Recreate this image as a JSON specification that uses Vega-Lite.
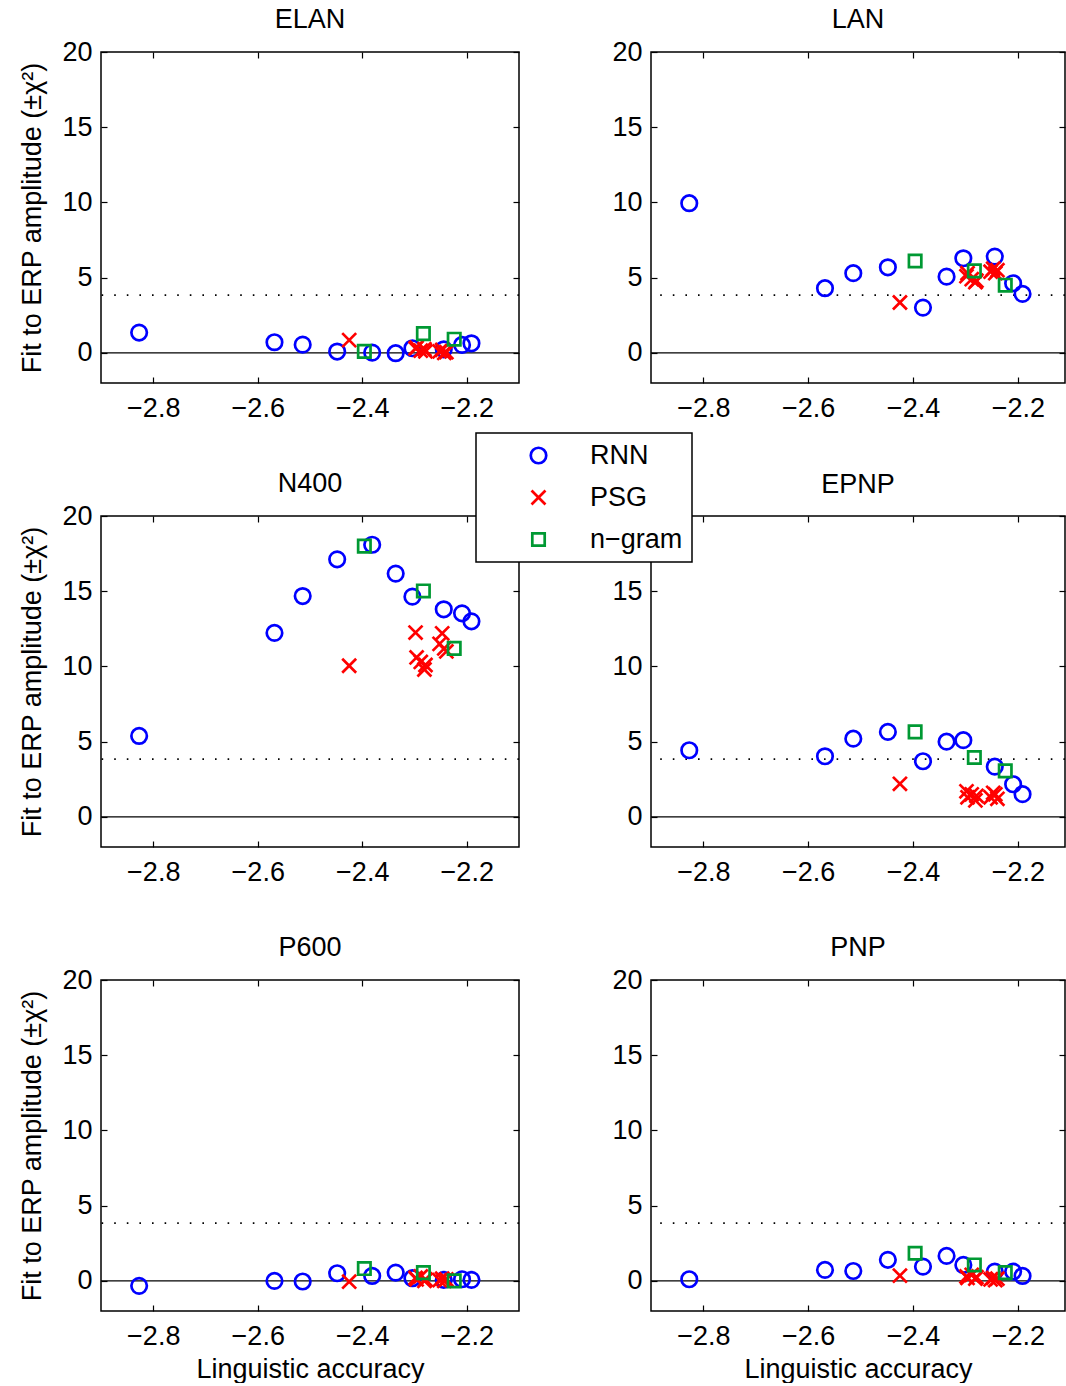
{
  "$schema": "https://vega.github.io/schema/vega-lite/v6.json",
  "background": "white",
  "padding": {"left": 18, "top": 5, "right": 0, "bottom": 0},
  "config": {
    "font": "Liberation Sans",
    "view": {"stroke": "black", "strokeWidth": 1.5},
    "axis": {"grid": false, "domain": false, "labelFont": "Liberation Sans", "labelFontSize": 27, "labelColor": "black", "titleFont": "Liberation Sans", "titleFontSize": 27, "titleFontWeight": "normal", "titleColor": "black", "tickColor": "black", "tickSize": -6, "tickWidth": 1.2},
    "title": {"font": "Liberation Sans", "fontSize": 27, "fontWeight": "normal", "color": "black", "offset": 4},
    "point": {"opacity": 1},
    "legend": {"title": null, "strokeColor": "black", "strokeWidth": 1.5, "fillColor": "white", "padding": 9, "labelFont": "Liberation Sans", "labelFontSize": 27, "labelColor": "black", "symbolOffset": 40, "labelOffset": 38, "rowPadding": 14, "symbolStrokeWidth": 2.7, "symbolSize": 240, "symbolOpacity": 1}
  },
  "datasets": {
    "pts": [
      {"erp":"ELAN","model":"RNN","acc":-2.827,"fit":1.35},{"erp":"ELAN","model":"RNN","acc":-2.568,"fit":0.71},{"erp":"ELAN","model":"RNN","acc":-2.514,"fit":0.55},{"erp":"ELAN","model":"RNN","acc":-2.448,"fit":0.09},{"erp":"ELAN","model":"RNN","acc":-2.381,"fit":0.02},{"erp":"ELAN","model":"RNN","acc":-2.336,"fit":-0.02},{"erp":"ELAN","model":"RNN","acc":-2.304,"fit":0.31},{"erp":"ELAN","model":"RNN","acc":-2.244,"fit":0.24},{"erp":"ELAN","model":"RNN","acc":-2.209,"fit":0.53},{"erp":"ELAN","model":"RNN","acc":-2.191,"fit":0.64},
      {"erp":"ELAN","model":"PSG","acc":-2.425,"fit":0.85},{"erp":"ELAN","model":"PSG","acc":-2.298,"fit":0.3},{"erp":"ELAN","model":"PSG","acc":-2.296,"fit":0.35},{"erp":"ELAN","model":"PSG","acc":-2.288,"fit":0.15},{"erp":"ELAN","model":"PSG","acc":-2.281,"fit":0.25},{"erp":"ELAN","model":"PSG","acc":-2.279,"fit":0.1},{"erp":"ELAN","model":"PSG","acc":-2.252,"fit":0.1},{"erp":"ELAN","model":"PSG","acc":-2.247,"fit":0.2},{"erp":"ELAN","model":"PSG","acc":-2.243,"fit":0.0},{"erp":"ELAN","model":"PSG","acc":-2.239,"fit":0.05},
      {"erp":"ELAN","model":"n−gram","acc":-2.396,"fit":0.1},{"erp":"ELAN","model":"n−gram","acc":-2.283,"fit":1.28},{"erp":"ELAN","model":"n−gram","acc":-2.224,"fit":0.91},
      {"erp":"LAN","model":"RNN","acc":-2.827,"fit":9.95},{"erp":"LAN","model":"RNN","acc":-2.568,"fit":4.3},{"erp":"LAN","model":"RNN","acc":-2.514,"fit":5.3},{"erp":"LAN","model":"RNN","acc":-2.448,"fit":5.69},{"erp":"LAN","model":"RNN","acc":-2.381,"fit":3.01},{"erp":"LAN","model":"RNN","acc":-2.336,"fit":5.07},{"erp":"LAN","model":"RNN","acc":-2.304,"fit":6.29},{"erp":"LAN","model":"RNN","acc":-2.244,"fit":6.4},{"erp":"LAN","model":"RNN","acc":-2.209,"fit":4.63},{"erp":"LAN","model":"RNN","acc":-2.191,"fit":3.92},
      {"erp":"LAN","model":"PSG","acc":-2.425,"fit":3.35},{"erp":"LAN","model":"PSG","acc":-2.298,"fit":5.1},{"erp":"LAN","model":"PSG","acc":-2.296,"fit":5.3},{"erp":"LAN","model":"PSG","acc":-2.288,"fit":4.9},{"erp":"LAN","model":"PSG","acc":-2.281,"fit":4.7},{"erp":"LAN","model":"PSG","acc":-2.279,"fit":4.8},{"erp":"LAN","model":"PSG","acc":-2.252,"fit":5.4},{"erp":"LAN","model":"PSG","acc":-2.247,"fit":5.6},{"erp":"LAN","model":"PSG","acc":-2.243,"fit":5.3},{"erp":"LAN","model":"PSG","acc":-2.239,"fit":5.5},
      {"erp":"LAN","model":"n−gram","acc":-2.396,"fit":6.11},{"erp":"LAN","model":"n−gram","acc":-2.283,"fit":5.45},{"erp":"LAN","model":"n−gram","acc":-2.224,"fit":4.5},
      {"erp":"N400","model":"RNN","acc":-2.827,"fit":5.38},{"erp":"N400","model":"RNN","acc":-2.568,"fit":12.23},{"erp":"N400","model":"RNN","acc":-2.514,"fit":14.68},{"erp":"N400","model":"RNN","acc":-2.448,"fit":17.12},{"erp":"N400","model":"RNN","acc":-2.381,"fit":18.09},{"erp":"N400","model":"RNN","acc":-2.336,"fit":16.17},{"erp":"N400","model":"RNN","acc":-2.304,"fit":14.64},{"erp":"N400","model":"RNN","acc":-2.244,"fit":13.8},{"erp":"N400","model":"RNN","acc":-2.209,"fit":13.53},{"erp":"N400","model":"RNN","acc":-2.191,"fit":13.0},
      {"erp":"N400","model":"PSG","acc":-2.425,"fit":10.05},{"erp":"N400","model":"PSG","acc":-2.298,"fit":12.25},{"erp":"N400","model":"PSG","acc":-2.296,"fit":10.6},{"erp":"N400","model":"PSG","acc":-2.288,"fit":10.3},{"erp":"N400","model":"PSG","acc":-2.281,"fit":9.8},{"erp":"N400","model":"PSG","acc":-2.279,"fit":10.1},{"erp":"N400","model":"PSG","acc":-2.252,"fit":11.5},{"erp":"N400","model":"PSG","acc":-2.247,"fit":12.2},{"erp":"N400","model":"PSG","acc":-2.243,"fit":11.2},{"erp":"N400","model":"PSG","acc":-2.239,"fit":11.0},
      {"erp":"N400","model":"n−gram","acc":-2.396,"fit":18.0},{"erp":"N400","model":"n−gram","acc":-2.283,"fit":15.02},{"erp":"N400","model":"n−gram","acc":-2.224,"fit":11.2},
      {"erp":"EPNP","model":"RNN","acc":-2.827,"fit":4.43},{"erp":"EPNP","model":"RNN","acc":-2.568,"fit":4.03},{"erp":"EPNP","model":"RNN","acc":-2.514,"fit":5.2},{"erp":"EPNP","model":"RNN","acc":-2.448,"fit":5.65},{"erp":"EPNP","model":"RNN","acc":-2.381,"fit":3.7},{"erp":"EPNP","model":"RNN","acc":-2.336,"fit":5.0},{"erp":"EPNP","model":"RNN","acc":-2.304,"fit":5.1},{"erp":"EPNP","model":"RNN","acc":-2.244,"fit":3.34},{"erp":"EPNP","model":"RNN","acc":-2.209,"fit":2.17},{"erp":"EPNP","model":"RNN","acc":-2.191,"fit":1.51},
      {"erp":"EPNP","model":"PSG","acc":-2.425,"fit":2.2},{"erp":"EPNP","model":"PSG","acc":-2.298,"fit":1.7},{"erp":"EPNP","model":"PSG","acc":-2.296,"fit":1.3},{"erp":"EPNP","model":"PSG","acc":-2.288,"fit":1.5},{"erp":"EPNP","model":"PSG","acc":-2.281,"fit":1.1},{"erp":"EPNP","model":"PSG","acc":-2.279,"fit":1.4},{"erp":"EPNP","model":"PSG","acc":-2.252,"fit":1.3},{"erp":"EPNP","model":"PSG","acc":-2.247,"fit":1.6},{"erp":"EPNP","model":"PSG","acc":-2.243,"fit":1.5},{"erp":"EPNP","model":"PSG","acc":-2.239,"fit":1.2},
      {"erp":"EPNP","model":"n−gram","acc":-2.396,"fit":5.65},{"erp":"EPNP","model":"n−gram","acc":-2.283,"fit":3.95},{"erp":"EPNP","model":"n−gram","acc":-2.224,"fit":3.06},
      {"erp":"P600","model":"RNN","acc":-2.827,"fit":-0.33},{"erp":"P600","model":"RNN","acc":-2.568,"fit":0.0},{"erp":"P600","model":"RNN","acc":-2.514,"fit":-0.04},{"erp":"P600","model":"RNN","acc":-2.448,"fit":0.51},{"erp":"P600","model":"RNN","acc":-2.381,"fit":0.33},{"erp":"P600","model":"RNN","acc":-2.336,"fit":0.55},{"erp":"P600","model":"RNN","acc":-2.304,"fit":0.18},{"erp":"P600","model":"RNN","acc":-2.244,"fit":0.07},{"erp":"P600","model":"RNN","acc":-2.209,"fit":0.11},{"erp":"P600","model":"RNN","acc":-2.191,"fit":0.07},
      {"erp":"P600","model":"PSG","acc":-2.425,"fit":-0.05},{"erp":"P600","model":"PSG","acc":-2.298,"fit":0.2},{"erp":"P600","model":"PSG","acc":-2.296,"fit":0.1},{"erp":"P600","model":"PSG","acc":-2.288,"fit":0.3},{"erp":"P600","model":"PSG","acc":-2.281,"fit":0.0},{"erp":"P600","model":"PSG","acc":-2.279,"fit":0.1},{"erp":"P600","model":"PSG","acc":-2.252,"fit":0.05},{"erp":"P600","model":"PSG","acc":-2.247,"fit":0.15},{"erp":"P600","model":"PSG","acc":-2.243,"fit":0.0},{"erp":"P600","model":"PSG","acc":-2.239,"fit":0.1},
      {"erp":"P600","model":"n−gram","acc":-2.396,"fit":0.82},{"erp":"P600","model":"n−gram","acc":-2.283,"fit":0.55},{"erp":"P600","model":"n−gram","acc":-2.224,"fit":0.0},
      {"erp":"PNP","model":"RNN","acc":-2.827,"fit":0.11},{"erp":"PNP","model":"RNN","acc":-2.568,"fit":0.73},{"erp":"PNP","model":"RNN","acc":-2.514,"fit":0.66},{"erp":"PNP","model":"RNN","acc":-2.448,"fit":1.4},{"erp":"PNP","model":"RNN","acc":-2.381,"fit":0.95},{"erp":"PNP","model":"RNN","acc":-2.336,"fit":1.66},{"erp":"PNP","model":"RNN","acc":-2.304,"fit":1.06},{"erp":"PNP","model":"RNN","acc":-2.244,"fit":0.62},{"erp":"PNP","model":"RNN","acc":-2.209,"fit":0.62},{"erp":"PNP","model":"RNN","acc":-2.191,"fit":0.33},
      {"erp":"PNP","model":"PSG","acc":-2.425,"fit":0.35},{"erp":"PNP","model":"PSG","acc":-2.298,"fit":0.3},{"erp":"PNP","model":"PSG","acc":-2.296,"fit":0.2},{"erp":"PNP","model":"PSG","acc":-2.288,"fit":0.4},{"erp":"PNP","model":"PSG","acc":-2.281,"fit":0.15},{"erp":"PNP","model":"PSG","acc":-2.279,"fit":0.25},{"erp":"PNP","model":"PSG","acc":-2.252,"fit":0.1},{"erp":"PNP","model":"PSG","acc":-2.247,"fit":0.2},{"erp":"PNP","model":"PSG","acc":-2.243,"fit":0.05},{"erp":"PNP","model":"PSG","acc":-2.239,"fit":0.15},
      {"erp":"PNP","model":"n−gram","acc":-2.396,"fit":1.84},{"erp":"PNP","model":"n−gram","acc":-2.283,"fit":1.06},{"erp":"PNP","model":"n−gram","acc":-2.224,"fit":0.55}
    ]
  },
  "columns": 2,
  "spacing": {"row": 133, "column": 132},
  "bounds": "flush",
  "concat": [
    {
      "width": 418, "height": 331, "title": "ELAN",
      "layer": [
        {"data": {"values": [{"ref": 0}]}, "mark": {"type": "rule", "color": "black", "strokeWidth": 1.3}, "encoding": {"y": {"field": "ref", "type": "quantitative", "scale": {"domain": [-2, 20], "nice": false, "zero": false}, "axis": null}}},
        {"data": {"values": [{"ref": 3.84}]}, "mark": {"type": "rule", "color": "black", "strokeWidth": 1.6, "strokeDash": [1.6, 11]}, "encoding": {"y": {"field": "ref", "type": "quantitative", "scale": {"domain": [-2, 20], "nice": false, "zero": false}, "axis": null}}},
        {"data": {"name": "pts"}, "transform": [{"filter": "datum.erp === 'ELAN'"}], "mark": {"type": "point", "filled": false, "strokeWidth": 2.7, "size": 240, "opacity": 1},
         "encoding": {
           "x": {"field": "acc", "type": "quantitative", "scale": {"domain": [-2.9, -2.1], "nice": false, "zero": false}, "axis": {"orient": "bottom", "values": [-2.8, -2.6, -2.4, -2.2], "format": ".1f", "labelPadding": 18, "title": null}},
           "y": {"field": "fit", "type": "quantitative", "scale": {"domain": [-2, 20], "nice": false, "zero": false}, "axis": {"orient": "left", "values": [0, 5, 10, 15, 20], "labelPadding": 15, "title": "Fit to ERP amplitude (±χ²)", "titlePadding": 15}},
           "color": {"field": "model", "type": "nominal", "scale": {"domain": ["RNN", "PSG", "n−gram"], "range": ["#0000ff", "#ff0000", "#009933"]}, "legend": {"orient": "none", "legendX": 375, "legendY": 381}},
           "shape": {"field": "model", "type": "nominal", "scale": {"domain": ["RNN", "PSG", "n−gram"], "range": ["circle", "M-0.9,-0.9L0.9,0.9M-0.9,0.9L0.9,-0.9", "M-0.8,-0.8H0.8V0.8H-0.8Z"]}, "legend": {"orient": "none", "legendX": 375, "legendY": 381}}
         }},
        {"data": {"name": "pts"}, "transform": [{"filter": "datum.erp === 'ELAN'"}], "mark": {"type": "point", "opacity": 0},
         "encoding": {
           "x": {"field": "acc", "type": "quantitative", "scale": {"domain": [-2.9, -2.1], "nice": false, "zero": false}, "axis": {"orient": "top", "values": [-2.8, -2.6, -2.4, -2.2], "labels": false, "title": null}},
           "y": {"field": "fit", "type": "quantitative", "scale": {"domain": [-2, 20], "nice": false, "zero": false}, "axis": {"orient": "right", "values": [0, 5, 10, 15, 20], "labels": false, "title": null}}
         }}
      ],
      "resolve": {"axis": {"x": "independent", "y": "independent"}}
    },
    {
      "width": 414, "height": 331, "title": "LAN",
      "layer": [
        {"data": {"values": [{"ref": 0}]}, "mark": {"type": "rule", "color": "black", "strokeWidth": 1.3}, "encoding": {"y": {"field": "ref", "type": "quantitative", "scale": {"domain": [-2, 20], "nice": false, "zero": false}, "axis": null}}},
        {"data": {"values": [{"ref": 3.84}]}, "mark": {"type": "rule", "color": "black", "strokeWidth": 1.6, "strokeDash": [1.6, 11]}, "encoding": {"y": {"field": "ref", "type": "quantitative", "scale": {"domain": [-2, 20], "nice": false, "zero": false}, "axis": null}}},
        {"data": {"name": "pts"}, "transform": [{"filter": "datum.erp === 'LAN'"}], "mark": {"type": "point", "filled": false, "strokeWidth": 2.7, "size": 240, "opacity": 1},
         "encoding": {
           "x": {"field": "acc", "type": "quantitative", "scale": {"domain": [-2.9, -2.11], "nice": false, "zero": false}, "axis": {"orient": "bottom", "values": [-2.8, -2.6, -2.4, -2.2], "format": ".1f", "labelPadding": 18, "title": null}},
           "y": {"field": "fit", "type": "quantitative", "scale": {"domain": [-2, 20], "nice": false, "zero": false}, "axis": {"orient": "left", "values": [0, 5, 10, 15, 20], "labelPadding": 15, "title": null}},
           "color": {"field": "model", "type": "nominal", "scale": {"domain": ["RNN", "PSG", "n−gram"], "range": ["#0000ff", "#ff0000", "#009933"]}},
           "shape": {"field": "model", "type": "nominal", "scale": {"domain": ["RNN", "PSG", "n−gram"], "range": ["circle", "M-0.9,-0.9L0.9,0.9M-0.9,0.9L0.9,-0.9", "M-0.8,-0.8H0.8V0.8H-0.8Z"]}}
         }},
        {"data": {"name": "pts"}, "transform": [{"filter": "datum.erp === 'LAN'"}], "mark": {"type": "point", "opacity": 0},
         "encoding": {
           "x": {"field": "acc", "type": "quantitative", "scale": {"domain": [-2.9, -2.11], "nice": false, "zero": false}, "axis": {"orient": "top", "values": [-2.8, -2.6, -2.4, -2.2], "labels": false, "title": null}},
           "y": {"field": "fit", "type": "quantitative", "scale": {"domain": [-2, 20], "nice": false, "zero": false}, "axis": {"orient": "right", "values": [0, 5, 10, 15, 20], "labels": false, "title": null}}
         }}
      ],
      "resolve": {"axis": {"x": "independent", "y": "independent"}}
    },
    {
      "width": 418, "height": 331, "title": "N400",
      "layer": [
        {"data": {"values": [{"ref": 0}]}, "mark": {"type": "rule", "color": "black", "strokeWidth": 1.3}, "encoding": {"y": {"field": "ref", "type": "quantitative", "scale": {"domain": [-2, 20], "nice": false, "zero": false}, "axis": null}}},
        {"data": {"values": [{"ref": 3.84}]}, "mark": {"type": "rule", "color": "black", "strokeWidth": 1.6, "strokeDash": [1.6, 11]}, "encoding": {"y": {"field": "ref", "type": "quantitative", "scale": {"domain": [-2, 20], "nice": false, "zero": false}, "axis": null}}},
        {"data": {"name": "pts"}, "transform": [{"filter": "datum.erp === 'N400'"}], "mark": {"type": "point", "filled": false, "strokeWidth": 2.7, "size": 240, "opacity": 1},
         "encoding": {
           "x": {"field": "acc", "type": "quantitative", "scale": {"domain": [-2.9, -2.1], "nice": false, "zero": false}, "axis": {"orient": "bottom", "values": [-2.8, -2.6, -2.4, -2.2], "format": ".1f", "labelPadding": 18, "title": null}},
           "y": {"field": "fit", "type": "quantitative", "scale": {"domain": [-2, 20], "nice": false, "zero": false}, "axis": {"orient": "left", "values": [0, 5, 10, 15, 20], "labelPadding": 15, "title": "Fit to ERP amplitude (±χ²)", "titlePadding": 15}},
           "color": {"field": "model", "type": "nominal", "scale": {"domain": ["RNN", "PSG", "n−gram"], "range": ["#0000ff", "#ff0000", "#009933"]}},
           "shape": {"field": "model", "type": "nominal", "scale": {"domain": ["RNN", "PSG", "n−gram"], "range": ["circle", "M-0.9,-0.9L0.9,0.9M-0.9,0.9L0.9,-0.9", "M-0.8,-0.8H0.8V0.8H-0.8Z"]}}
         }},
        {"data": {"name": "pts"}, "transform": [{"filter": "datum.erp === 'N400'"}], "mark": {"type": "point", "opacity": 0},
         "encoding": {
           "x": {"field": "acc", "type": "quantitative", "scale": {"domain": [-2.9, -2.1], "nice": false, "zero": false}, "axis": {"orient": "top", "values": [-2.8, -2.6, -2.4, -2.2], "labels": false, "title": null}},
           "y": {"field": "fit", "type": "quantitative", "scale": {"domain": [-2, 20], "nice": false, "zero": false}, "axis": {"orient": "right", "values": [0, 5, 10, 15, 20], "labels": false, "title": null}}
         }}
      ],
      "resolve": {"axis": {"x": "independent", "y": "independent"}}
    },
    {
      "width": 414, "height": 331, "title": {"text": "EPNP", "offset": 16},
      "layer": [
        {"data": {"values": [{"ref": 0}]}, "mark": {"type": "rule", "color": "black", "strokeWidth": 1.3}, "encoding": {"y": {"field": "ref", "type": "quantitative", "scale": {"domain": [-2, 20], "nice": false, "zero": false}, "axis": null}}},
        {"data": {"values": [{"ref": 3.84}]}, "mark": {"type": "rule", "color": "black", "strokeWidth": 1.6, "strokeDash": [1.6, 11]}, "encoding": {"y": {"field": "ref", "type": "quantitative", "scale": {"domain": [-2, 20], "nice": false, "zero": false}, "axis": null}}},
        {"data": {"name": "pts"}, "transform": [{"filter": "datum.erp === 'EPNP'"}], "mark": {"type": "point", "filled": false, "strokeWidth": 2.7, "size": 240, "opacity": 1},
         "encoding": {
           "x": {"field": "acc", "type": "quantitative", "scale": {"domain": [-2.9, -2.11], "nice": false, "zero": false}, "axis": {"orient": "bottom", "values": [-2.8, -2.6, -2.4, -2.2], "format": ".1f", "labelPadding": 18, "title": null}},
           "y": {"field": "fit", "type": "quantitative", "scale": {"domain": [-2, 20], "nice": false, "zero": false}, "axis": {"orient": "left", "values": [0, 5, 10, 15], "labelPadding": 15, "title": null}},
           "color": {"field": "model", "type": "nominal", "scale": {"domain": ["RNN", "PSG", "n−gram"], "range": ["#0000ff", "#ff0000", "#009933"]}},
           "shape": {"field": "model", "type": "nominal", "scale": {"domain": ["RNN", "PSG", "n−gram"], "range": ["circle", "M-0.9,-0.9L0.9,0.9M-0.9,0.9L0.9,-0.9", "M-0.8,-0.8H0.8V0.8H-0.8Z"]}}
         }},
        {"data": {"name": "pts"}, "transform": [{"filter": "datum.erp === 'EPNP'"}], "mark": {"type": "point", "opacity": 0},
         "encoding": {
           "x": {"field": "acc", "type": "quantitative", "scale": {"domain": [-2.9, -2.11], "nice": false, "zero": false}, "axis": {"orient": "top", "values": [-2.8, -2.6, -2.4, -2.2], "labels": false, "title": null}},
           "y": {"field": "fit", "type": "quantitative", "scale": {"domain": [-2, 20], "nice": false, "zero": false}, "axis": {"orient": "right", "values": [0, 5, 10, 15, 20], "labels": false, "title": null}}
         }}
      ],
      "resolve": {"axis": {"x": "independent", "y": "independent"}}
    },
    {
      "width": 418, "height": 331, "title": "P600",
      "layer": [
        {"data": {"values": [{"ref": 0}]}, "mark": {"type": "rule", "color": "black", "strokeWidth": 1.3}, "encoding": {"y": {"field": "ref", "type": "quantitative", "scale": {"domain": [-2, 20], "nice": false, "zero": false}, "axis": null}}},
        {"data": {"values": [{"ref": 3.84}]}, "mark": {"type": "rule", "color": "black", "strokeWidth": 1.6, "strokeDash": [1.6, 11]}, "encoding": {"y": {"field": "ref", "type": "quantitative", "scale": {"domain": [-2, 20], "nice": false, "zero": false}, "axis": null}}},
        {"data": {"name": "pts"}, "transform": [{"filter": "datum.erp === 'P600'"}], "mark": {"type": "point", "filled": false, "strokeWidth": 2.7, "size": 240, "opacity": 1},
         "encoding": {
           "x": {"field": "acc", "type": "quantitative", "scale": {"domain": [-2.9, -2.1], "nice": false, "zero": false}, "axis": {"orient": "bottom", "values": [-2.8, -2.6, -2.4, -2.2], "format": ".1f", "labelPadding": 18, "title": "Linguistic accuracy", "titlePadding": 7}},
           "y": {"field": "fit", "type": "quantitative", "scale": {"domain": [-2, 20], "nice": false, "zero": false}, "axis": {"orient": "left", "values": [0, 5, 10, 15, 20], "labelPadding": 15, "title": "Fit to ERP amplitude (±χ²)", "titlePadding": 15}},
           "color": {"field": "model", "type": "nominal", "scale": {"domain": ["RNN", "PSG", "n−gram"], "range": ["#0000ff", "#ff0000", "#009933"]}},
           "shape": {"field": "model", "type": "nominal", "scale": {"domain": ["RNN", "PSG", "n−gram"], "range": ["circle", "M-0.9,-0.9L0.9,0.9M-0.9,0.9L0.9,-0.9", "M-0.8,-0.8H0.8V0.8H-0.8Z"]}}
         }},
        {"data": {"name": "pts"}, "transform": [{"filter": "datum.erp === 'P600'"}], "mark": {"type": "point", "opacity": 0},
         "encoding": {
           "x": {"field": "acc", "type": "quantitative", "scale": {"domain": [-2.9, -2.1], "nice": false, "zero": false}, "axis": {"orient": "top", "values": [-2.8, -2.6, -2.4, -2.2], "labels": false, "title": null}},
           "y": {"field": "fit", "type": "quantitative", "scale": {"domain": [-2, 20], "nice": false, "zero": false}, "axis": {"orient": "right", "values": [0, 5, 10, 15, 20], "labels": false, "title": null}}
         }}
      ],
      "resolve": {"axis": {"x": "independent", "y": "independent"}}
    },
    {
      "width": 414, "height": 331, "title": "PNP",
      "layer": [
        {"data": {"values": [{"ref": 0}]}, "mark": {"type": "rule", "color": "black", "strokeWidth": 1.3}, "encoding": {"y": {"field": "ref", "type": "quantitative", "scale": {"domain": [-2, 20], "nice": false, "zero": false}, "axis": null}}},
        {"data": {"values": [{"ref": 3.84}]}, "mark": {"type": "rule", "color": "black", "strokeWidth": 1.6, "strokeDash": [1.6, 11]}, "encoding": {"y": {"field": "ref", "type": "quantitative", "scale": {"domain": [-2, 20], "nice": false, "zero": false}, "axis": null}}},
        {"data": {"name": "pts"}, "transform": [{"filter": "datum.erp === 'PNP'"}], "mark": {"type": "point", "filled": false, "strokeWidth": 2.7, "size": 240, "opacity": 1},
         "encoding": {
           "x": {"field": "acc", "type": "quantitative", "scale": {"domain": [-2.9, -2.11], "nice": false, "zero": false}, "axis": {"orient": "bottom", "values": [-2.8, -2.6, -2.4, -2.2], "format": ".1f", "labelPadding": 18, "title": "Linguistic accuracy", "titlePadding": 7}},
           "y": {"field": "fit", "type": "quantitative", "scale": {"domain": [-2, 20], "nice": false, "zero": false}, "axis": {"orient": "left", "values": [0, 5, 10, 15, 20], "labelPadding": 15, "title": null}},
           "color": {"field": "model", "type": "nominal", "scale": {"domain": ["RNN", "PSG", "n−gram"], "range": ["#0000ff", "#ff0000", "#009933"]}},
           "shape": {"field": "model", "type": "nominal", "scale": {"domain": ["RNN", "PSG", "n−gram"], "range": ["circle", "M-0.9,-0.9L0.9,0.9M-0.9,0.9L0.9,-0.9", "M-0.8,-0.8H0.8V0.8H-0.8Z"]}}
         }},
        {"data": {"name": "pts"}, "transform": [{"filter": "datum.erp === 'PNP'"}], "mark": {"type": "point", "opacity": 0},
         "encoding": {
           "x": {"field": "acc", "type": "quantitative", "scale": {"domain": [-2.9, -2.11], "nice": false, "zero": false}, "axis": {"orient": "top", "values": [-2.8, -2.6, -2.4, -2.2], "labels": false, "title": null}},
           "y": {"field": "fit", "type": "quantitative", "scale": {"domain": [-2, 20], "nice": false, "zero": false}, "axis": {"orient": "right", "values": [0, 5, 10, 15, 20], "labels": false, "title": null}}
         }}
      ],
      "resolve": {"axis": {"x": "independent", "y": "independent"}}
    }
  ]
}
